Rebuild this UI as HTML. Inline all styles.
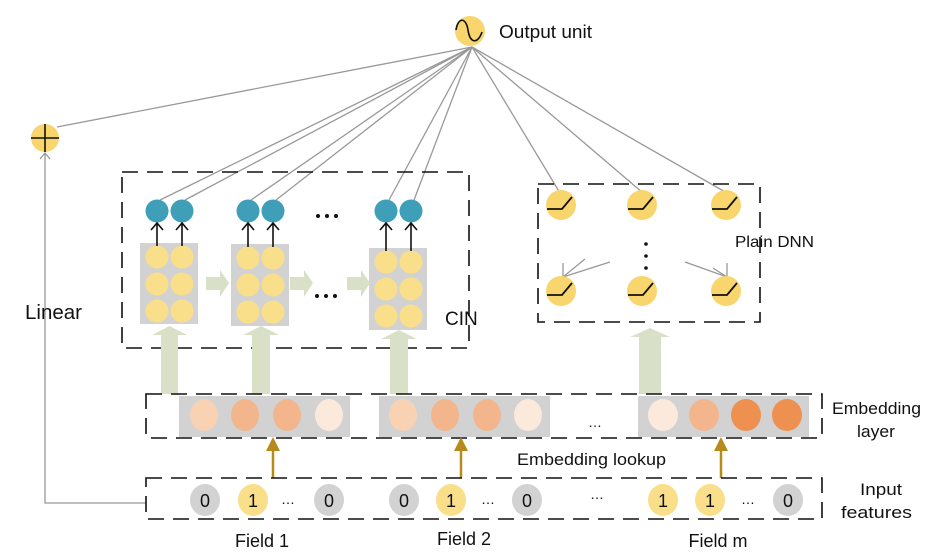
<!DOCTYPE html>
<html><head><meta charset="utf-8"><style>
html,body{margin:0;padding:0;background:#fff}
svg{display:block}
text{font-family:"Liberation Sans",sans-serif;fill:#111}
</style></head><body>
<svg width="943" height="556" viewBox="0 0 943 556" xmlns="http://www.w3.org/2000/svg">
<g stroke="#999" stroke-width="1.3" fill="none">
<line x1="472" y1="47" x2="57" y2="127"/>
<line x1="472" y1="47" x2="160" y2="200"/>
<line x1="472" y1="47" x2="185" y2="200"/>
<line x1="472" y1="47" x2="251" y2="200"/>
<line x1="472" y1="47" x2="276" y2="200"/>
<line x1="472" y1="47" x2="389" y2="200"/>
<line x1="472" y1="47" x2="414" y2="200"/>
<line x1="472" y1="47" x2="560" y2="193"/>
<line x1="472" y1="47" x2="643" y2="193"/>
<line x1="472" y1="47" x2="727" y2="193"/>
<polyline points="45,154 45,503 146,503"/>
<polyline points="40,159 45,153 50,159"/>
<line x1="610" y1="262" x2="563" y2="277"/>
<line x1="585" y1="259" x2="563" y2="277"/>
<line x1="563" y1="263" x2="563" y2="277"/>
<line x1="685" y1="262" x2="727" y2="277"/>
<polyline points="713,268 727,277 727,263"/>
</g>
<circle cx="470" cy="31" r="15" fill="#f9d56e"/>
<path d="M456,30 C458,17 466,17 468,30 C470,44 478,44 482,32" stroke="#111" stroke-width="1.6" fill="none"/>
<text x="499" y="38" font-size="18" textLength="93" lengthAdjust="spacingAndGlyphs">Output unit</text>
<circle cx="45" cy="138" r="14" fill="#f9d56e"/>
<path d="M31,138H59M45,124V152" stroke="#111" stroke-width="1.6"/>
<text x="25" y="319" font-size="20" textLength="57" lengthAdjust="spacingAndGlyphs">Linear</text>
<rect x="122" y="172" width="347" height="176" fill="none" stroke="#111" stroke-width="1.6" stroke-dasharray="16,9"/>
<g fill="#d2d2d2">
<rect x="140" y="243" width="58" height="81"/>
<rect x="231" y="244" width="58" height="82"/>
<rect x="369" y="248" width="58" height="82"/>
</g>
<g fill="#fadf8a">
<circle cx="157" cy="257" r="11.5"/><circle cx="182" cy="257" r="11.5"/>
<circle cx="157" cy="284" r="11.5"/><circle cx="182" cy="284" r="11.5"/>
<circle cx="157" cy="311" r="11.5"/><circle cx="182" cy="311" r="11.5"/>
<circle cx="248" cy="258" r="11.5"/><circle cx="273" cy="258" r="11.5"/>
<circle cx="248" cy="285" r="11.5"/><circle cx="273" cy="285" r="11.5"/>
<circle cx="248" cy="312" r="11.5"/><circle cx="273" cy="312" r="11.5"/>
<circle cx="386" cy="262" r="11.5"/><circle cx="411" cy="262" r="11.5"/>
<circle cx="386" cy="289" r="11.5"/><circle cx="411" cy="289" r="11.5"/>
<circle cx="386" cy="316" r="11.5"/><circle cx="411" cy="316" r="11.5"/>
</g>
<g fill="#3f9eb8">
<circle cx="157" cy="211" r="11.5"/><circle cx="182" cy="211" r="11.5"/>
<circle cx="248" cy="211" r="11.5"/><circle cx="273" cy="211" r="11.5"/>
<circle cx="386" cy="211" r="11.5"/><circle cx="411" cy="211" r="11.5"/>
</g>
<g stroke="#111" stroke-width="1.6" fill="none">
<path d="M157,246V224M151,230L157,223L163,230"/>
<path d="M182,246V224M176,230L182,223L188,230"/>
<path d="M248,247V224M242,230L248,223L254,230"/>
<path d="M273,247V224M267,230L273,223L279,230"/>
<path d="M386,251V224M380,230L386,223L392,230"/>
<path d="M411,251V224M405,230L411,223L417,230"/>
</g>
<g fill="#d8e0c8">
<path d="M206,277H220V270L229,283L220,297V290H206Z"/>
<path d="M290,277H304V270L313,283L304,297V290H290Z"/>
<path d="M347,277H361V270L370,283L361,297V290H347Z"/>
<path d="M161,394V335H152L169.5,326L187,335H178V394Z"/>
<path d="M252,394V335H243L261,326L279,335H270V394Z"/>
<path d="M390,394V339H381L399,330L417,339H408V394Z"/>
<path d="M639,394V337H630L650,328L670,337H661V394Z"/>
</g>
<g fill="#111">
<circle cx="318" cy="216" r="2"/><circle cx="327" cy="216" r="2"/><circle cx="336" cy="216" r="2"/>
<circle cx="317" cy="296" r="2"/><circle cx="326" cy="296" r="2"/><circle cx="335" cy="296" r="2"/>
</g>
<text x="445" y="325" font-size="19">CIN</text>
<rect x="538" y="184" width="222" height="138" fill="none" stroke="#111" stroke-width="1.6" stroke-dasharray="16,9"/>
<g fill="#f9d56e">
<circle cx="561" cy="205" r="15"/><circle cx="642" cy="205" r="15"/><circle cx="726" cy="205" r="15"/>
<circle cx="561" cy="291" r="15"/><circle cx="642" cy="291" r="15"/><circle cx="726" cy="291" r="15"/>
</g>
<g stroke="#111" stroke-width="1.8" fill="none">
<path d="M547,209H562L572,197"/><path d="M628,209H643L653,197"/><path d="M712,209H727L737,197"/>
<path d="M547,295H562L572,283"/><path d="M628,295H643L653,283"/><path d="M712,295H727L737,283"/>
</g>
<g fill="#111"><circle cx="646" cy="244" r="1.8"/><circle cx="646" cy="256" r="1.8"/><circle cx="646" cy="268" r="1.8"/></g>
<text x="735" y="247" font-size="16" textLength="79" lengthAdjust="spacingAndGlyphs">Plain DNN</text>
<rect x="146" y="394" width="676" height="44" fill="none" stroke="#111" stroke-width="1.6" stroke-dasharray="16,9"/>
<g fill="#d2d2d2">
<rect x="179" y="396" width="171" height="41"/>
<rect x="379" y="396" width="171" height="41"/>
<rect x="638" y="396" width="171" height="41"/>
</g>
<g>
<ellipse cx="204" cy="415" rx="14" ry="16" fill="#f9d2b3"/>
<ellipse cx="245" cy="415" rx="14" ry="16" fill="#f2b58c"/>
<ellipse cx="287" cy="415" rx="14" ry="16" fill="#f2b58c"/>
<ellipse cx="329" cy="415" rx="14" ry="16" fill="#fbe9dc"/>
<ellipse cx="403" cy="415" rx="14" ry="16" fill="#f9d2b3"/>
<ellipse cx="445" cy="415" rx="14" ry="16" fill="#f2b58c"/>
<ellipse cx="487" cy="415" rx="14" ry="16" fill="#f2b58c"/>
<ellipse cx="528" cy="415" rx="14" ry="16" fill="#fbe9dc"/>
<ellipse cx="663" cy="415" rx="15" ry="16" fill="#fbe9dc"/>
<ellipse cx="704" cy="415" rx="15" ry="16" fill="#f2b58c"/>
<ellipse cx="746" cy="415" rx="15" ry="16" fill="#ee9150"/>
<ellipse cx="787" cy="415" rx="15" ry="16" fill="#ee9150"/>
</g>
<text x="588" y="427" font-size="14">…</text>
<text x="832" y="414" font-size="17" textLength="89" lengthAdjust="spacingAndGlyphs">Embedding</text>
<text x="857" y="437" font-size="17" textLength="38" lengthAdjust="spacingAndGlyphs">layer</text>
<g stroke="#b78a1c" stroke-width="2.5">
<line x1="273" y1="478" x2="273" y2="448"/>
<line x1="461" y1="478" x2="461" y2="448"/>
<line x1="721" y1="478" x2="721" y2="448"/>
</g>
<g fill="#b78a1c">
<path d="M266,451L273,437L280,451Z"/><path d="M454,451L461,437L468,451Z"/><path d="M714,451L721,437L728,451Z"/>
</g>
<text x="517" y="465" font-size="17" textLength="149" lengthAdjust="spacingAndGlyphs">Embedding lookup</text>
<rect x="146" y="478" width="676" height="41" fill="none" stroke="#111" stroke-width="1.6" stroke-dasharray="16,9"/>
<g>
<ellipse cx="205" cy="500" rx="15" ry="16" fill="#d2d2d2"/>
<ellipse cx="253" cy="500" rx="15" ry="16" fill="#fadf8a"/>
<ellipse cx="329" cy="500" rx="15" ry="16" fill="#d2d2d2"/>
<ellipse cx="404" cy="500" rx="15" ry="16" fill="#d2d2d2"/>
<ellipse cx="451" cy="500" rx="15" ry="16" fill="#fadf8a"/>
<ellipse cx="527" cy="500" rx="15" ry="16" fill="#d2d2d2"/>
<ellipse cx="663" cy="500" rx="15" ry="16" fill="#fadf8a"/>
<ellipse cx="710" cy="500" rx="15" ry="16" fill="#fadf8a"/>
<ellipse cx="788" cy="500" rx="15" ry="16" fill="#d2d2d2"/>
</g>
<g font-size="18" text-anchor="middle">
<text x="205" y="507">0</text><text x="253" y="507">1</text><text x="329" y="507">0</text>
<text x="404" y="507">0</text><text x="451" y="507">1</text><text x="527" y="507">0</text>
<text x="663" y="507">1</text><text x="710" y="507">1</text><text x="788" y="507">0</text>
</g>
<g font-size="14" text-anchor="middle">
<text x="288" y="504">…</text><text x="488" y="504">…</text><text x="597" y="499">…</text><text x="748" y="504">…</text>
</g>
<text x="860" y="495" font-size="17" textLength="42" lengthAdjust="spacingAndGlyphs">Input</text>
<text x="841" y="518" font-size="17" textLength="71" lengthAdjust="spacingAndGlyphs">features</text>
<g font-size="18" text-anchor="middle">
<text x="262" y="547">Field 1</text>
<text x="464" y="545">Field 2</text>
<text x="718" y="547">Field m</text>
</g>
</svg>
</body></html>
